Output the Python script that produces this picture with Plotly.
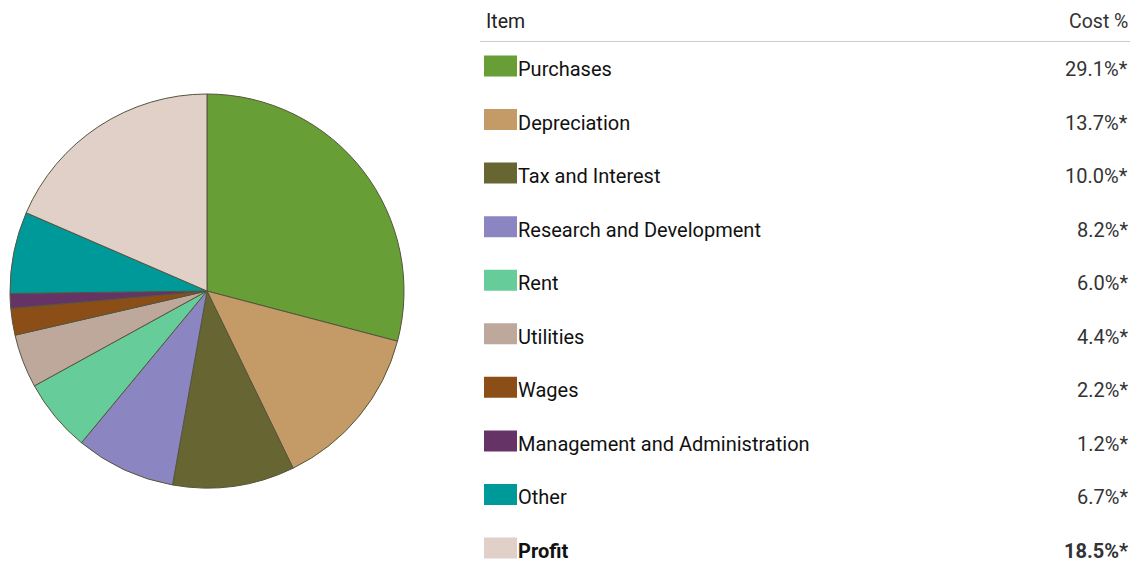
import plotly.graph_objects as go

# Cost breakdown
items = ["Purchases", "Depreciation", "Tax and Interest", "Research and Development",
         "Rent", "Utilities", "Wages", "Management and Administration", "Other", "Profit"]
cost_pct = [29.1, 13.7, 10.0, 8.2, 6.0, 4.4, 2.2, 1.2, 6.7, 18.5]
colors = ["#689E36", "#C49A66", "#676633", "#8B86C2", "#66CC99",
          "#BEA89C", "#8B4E16", "#663366", "#009999", "#E0D0C8"]
header_item = "Item"
header_cost = "Cost %"

W, H = 1132, 562
FONT = "Roboto, Liberation Sans, sans-serif"


def py(px):
    return 1 - px / H


def px_x(px):
    return px / W


fig = go.Figure()
fig.add_trace(go.Pie(
    labels=items,
    values=cost_pct,
    sort=False,
    direction="clockwise",
    rotation=0,
    marker=dict(colors=colors, line=dict(color="#55553f", width=1)),
    textinfo="none",
    hoverinfo="label+percent",
    showlegend=False,
    domain=dict(x=[px_x(10), px_x(404)], y=[py(488), py(94)]),
))

annotations = []
shapes = []

# table header
annotations.append(dict(x=px_x(484), y=py(22), xref="paper", yref="paper",
                        text=header_item, showarrow=False, xanchor="left", yanchor="middle",
                        font=dict(family=FONT, size=19.5, color="#222222")))
annotations.append(dict(x=px_x(1130), y=py(22), xref="paper", yref="paper",
                        text=header_cost, showarrow=False, xanchor="right", yanchor="middle",
                        font=dict(family=FONT, size=19.5, color="#333333")))
shapes.append(dict(type="line", xref="paper", yref="paper",
                   x0=px_x(480), x1=px_x(1130), y0=py(41.5), y1=py(41.5),
                   line=dict(color="#cccccc", width=1)))

row0, step = 66, (550 - 68) / 9
for i, (name, val, col) in enumerate(zip(items, cost_pct, colors)):
    yc = row0 + i * step
    bold = name == "Profit"
    shapes.append(dict(type="rect", xref="paper", yref="paper",
                       x0=px_x(484), x1=px_x(517), y0=py(yc - 10.5), y1=py(yc + 10.5),
                       fillcolor=col, line=dict(width=0)))
    label = f"<b>{name}</b>" if bold else name
    value = f"{val:.1f}%*"
    if bold:
        value = f"<b>{value}</b>"
    annotations.append(dict(x=px_x(516), y=py(yc + 3), xref="paper", yref="paper",
                            text=label, showarrow=False, xanchor="left", yanchor="middle",
                            font=dict(family=FONT, size=20, color="#111111")))
    annotations.append(dict(x=px_x(1130), y=py(yc + 3), xref="paper", yref="paper",
                            text=value, showarrow=False, xanchor="right", yanchor="middle",
                            font=dict(family=FONT, size=20, color="#333333")))

fig.update_layout(
    width=W, height=H,
    margin=dict(l=0, r=0, t=0, b=0),
    paper_bgcolor="white",
    plot_bgcolor="white",
    annotations=annotations,
    shapes=shapes,
)

fig.write_html("out.html")
